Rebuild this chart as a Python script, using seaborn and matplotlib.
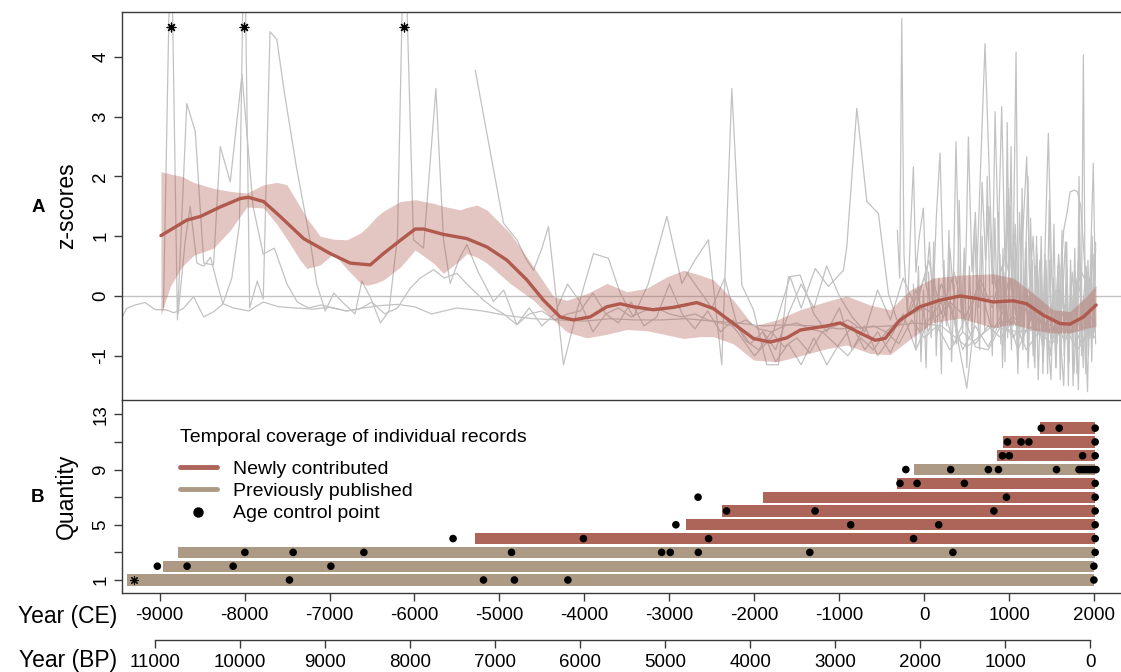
import numpy as np
import pandas as pd
import matplotlib
matplotlib.use("Agg")
import matplotlib.pyplot as plt
import seaborn as sns
from matplotlib.lines import Line2D

# ---------------- data ----------------
ce_ticks = [-9000, -8000, -7000, -6000, -5000, -4000, -3000, -2000, -1000, 0, 1000, 2000]
ce_tick_labels = ["-9000", "-8000", "-7000", "-6000", "-5000", "-4000", "-3000",
                  "-2000", "-1000", "0", "1000", "2000"]
bp_ticks = [11000, 10000, 9000, 8000, 7000, 6000, 5000, 4000, 3000, 2000, 1000, 0]
bp_tick_labels = ["11000", "10000", "9000", "8000", "7000", "6000", "5000", "4000",
                  "3000", "2000", "1000", "0"]
z_ticks = [-1, 0, 1, 2, 3, 4]
z_tick_labels = ["-1", "0", "1", "2", "3", "4"]
q_ticks = [1, 3, 5, 7, 9, 11, 13]
q_tick_labels = ["1", "", "5", "", "9", "", "13"]

legend_title = "Temporal coverage of individual records"
legend_labels = ["Newly contributed", "Previously published", "Age control point"]

# individual z-score records (year CE, z)
rec1 = [(-9440, -0.36), (-9390, -0.21), (-9290, -0.15), (-9170, -0.11), (-9050, -0.23), (-8930, -0.23),
        (-8830, -0.28), (-8720, -0.21), (-8600, -0.01), (-8480, -0.35), (-8360, -0.26),
        (-8250, -0.13), (-8130, -0.20), (-7950, -0.25), (-7780, -0.10), (-7600, -0.18),
        (-7400, -0.20), (-7200, -0.22), (-7000, -0.19), (-6800, -0.25), (-6600, -0.20),
        (-6400, -0.16), (-6200, -0.14), (-6000, -0.18), (-5800, -0.30), (-5500, -0.20),
        (-5200, -0.25), (-4900, -0.33), (-4600, -0.38), (-4300, -0.40), (-4000, -0.42),
        (-3700, -0.38), (-3400, -0.40), (-3100, -0.40), (-2800, -0.38), (-2500, -0.42),
        (-2200, -0.45), (-1900, -0.50), (-1600, -0.48), (-1300, -0.50), (-1000, -0.55),
        (-700, -0.52), (-400, -0.50), (-100, -0.45), (200, -0.50), (500, -0.85),
        (800, -0.50), (1100, -0.60), (1400, -0.55), (1700, -0.60), (1995, -0.55)]
rec2 = [(-8954, -0.20), (-8866, 6.50), (-8790, -0.40), (-8680, 3.22), (-8580, 2.75),
        (-8480, 0.55), (-8365, 0.52), (-8286, 2.50), (-8168, 1.91), (-8030, 3.70),
        (-7900, 1.50), (-7780, 0.70), (-7650, 0.80), (-7500, 0.20), (-7380, -0.10),
        (-7250, -0.20), (-7100, -0.15), (-6950, -0.20), (-6800, -0.25), (-6650, -0.22),
        (-6500, -0.10), (-6350, -0.30), (-6200, -0.20), (-6050, 0.13), (-5933, 0.30),
        (-5776, 0.44), (-5650, 0.30), (-5501, 0.38), (-5384, 0.20), (-5187, -0.07),
        (-5070, -0.20), (-4950, -0.30), (-4795, -0.48), (-4650, -0.30), (-4500, -0.25),
        (-4350, -0.40), (-4200, -0.30), (-4050, -0.25), (-3900, 0.05), (-3750, -0.30),
        (-3600, -0.20), (-3450, -0.35), (-3300, -0.25), (-3150, -0.20), (-3000, -0.30),
        (-2850, -0.35), (-2700, -0.30), (-2550, -0.40), (-2400, -0.45), (-2250, -0.50),
        (-2100, -0.40), (-1950, -0.55), (-1800, -0.60), (-1650, -0.50), (-1500, -0.45),
        (-1350, -0.55), (-1200, -0.60), (-1050, -0.50), (-900, -0.40), (-750, -0.55),
        (-600, -0.50), (-450, -0.60), (-300, -0.40), (-150, -0.30), (0, -0.20),
        (150, -0.35), (300, -0.10), (450, -0.30), (600, -0.85), (750, -0.90),
        (900, -0.50), (1050, -0.35), (1200, -0.60), (1350, -0.40), (1500, -0.50),
        (1650, -0.70), (1800, -0.45), (1950, -0.60), (1995, -0.50)]
rec3 = [(-8781, -0.30), (-8700, 0.90), (-8640, 1.50), (-8560, 0.55), (-8480, 0.50),
        (-8400, 0.65), (-8320, 0.20), (-8254, -0.13), (-8150, 0.30), (-8060, 1.20),
        (-8003, 6.50), (-7940, -0.20), (-7850, 0.25), (-7780, -0.05), (-7700, 4.42),
        (-7620, 4.29), (-7530, 3.39), (-7390, 2.16), (-7230, 0.94), (-7150, 0.20),
        (-7050, -0.25), (-6950, 0.05), (-6850, -0.10), (-6700, -0.30), (-6620, 0.25),
        (-6520, -0.02), (-6400, -0.45), (-6300, -0.25), (-6200, 1.00), (-6121, 6.50),
        (-6012, 0.94), (-5894, 0.80), (-5748, 3.47), (-5659, 0.94), (-5580, 0.21),
        (-5480, 0.60), (-5384, 0.86), (-5250, 0.40), (-5070, -0.09), (-4950, 0.10),
        (-4795, -0.48), (-4650, -0.20), (-4500, -0.50), (-4350, -0.30), (-4200, 0.20),
        (-4050, -0.10), (-3900, -0.60), (-3750, -0.30), (-3600, -0.45), (-3450, -0.10),
        (-3300, -0.50), (-3150, -0.35), (-3000, 0.20), (-2850, -0.30), (-2700, -0.55),
        (-2550, -0.25), (-2400, -0.60), (-2250, -0.40), (-2100, -0.75), (-1950, -0.90),
        (-1800, -0.60), (-1650, -0.85), (-1500, -0.70), (-1350, -0.95), (-1200, -0.60),
        (-1050, -0.80), (-900, -1.00), (-750, -0.70), (-600, -0.90), (-450, -0.60),
        (-300, -0.80), (-150, -0.40), (0, -0.70), (150, -0.50), (300, -0.90),
        (450, -0.60), (600, -0.80), (750, -0.50), (900, -0.70), (1050, -0.40),
        (1200, -0.90), (1350, -0.60), (1500, -0.80), (1650, -0.50), (1800, -0.90),
        (1950, -0.60), (2010, -0.70)]
rec4 = [(-5285, 3.78), (-5120, 2.50), (-4953, 1.22), (-4795, 0.94), (-4680, 0.60),
        (-4600, 0.43), (-4500, 0.80), (-4424, 1.16), (-4247, -1.15), (-4080, -0.20),
        (-3894, 0.71), (-3718, 0.63), (-3580, 0.05), (-3424, -0.35), (-3250, 0.20),
        (-3030, 1.33), (-2854, 0.21), (-2700, 0.60), (-2541, 0.94), (-2384, -1.15),
        (-2266, 3.47), (-2148, 0.18), (-2011, -0.23), (-1855, -1.15), (-1717, -1.15),
        (-1600, 0.32), (-1462, 0.35), (-1300, -0.30), (-1150, -0.60), (-1000, -0.20),
        (-850, -0.90), (-700, -0.50), (-550, -1.00), (-400, -0.70), (-250, -0.30),
        (-100, -0.90), (50, -0.40), (200, -0.10), (350, -0.80), (500, -0.30),
        (650, 0.20), (800, -0.60), (950, -0.20), (1100, -0.90), (1250, -0.40),
        (1400, -0.10), (1550, -0.70), (1700, -0.30), (1850, -0.80), (2010, -0.20)]
rec5 = [(-2800, 0.40), (-2650, 0.10), (-2500, -0.20), (-2350, 0.30), (-2200, -0.50),
        (-2050, -0.80), (-1900, -0.60), (-1750, -0.90), (-1600, -0.30), (-1450, 0.20),
        (-1300, -0.20), (-1150, 0.50), (-1000, 0.00), (-850, -0.35), (-700, -0.60),
        (-550, 0.10), (-400, -0.40), (-250, 0.30), (-100, -0.20), (50, 0.60),
        (200, -0.30), (350, 0.40), (500, -0.50), (650, 0.30), (800, -0.20),
        (950, 0.70), (1100, -0.40), (1250, 0.20), (1400, -0.60), (1550, 0.10),
        (1700, -0.30), (1850, 0.40), (2010, -0.10)]
rec6 = [(-2384, -0.30), (-2200, -0.60), (-2000, -1.00), (-1800, -0.70), (-1580, 0.32),
        (-1450, -0.20), (-1285, 0.46), (-1130, 0.16), (-953, 0.43), (-913, 0.82),
        (-795, 3.14), (-677, 1.58), (-541, 1.38), (-423, 0.04), (-300, -0.50),
        (-150, -0.20), (0, 0.30), (150, -0.60), (300, -0.10), (450, -0.90),
        (600, -0.50), (750, -0.85), (900, -0.40), (1050, -0.70), (1200, -0.20),
        (1350, -0.65), (1500, -0.30), (1650, -0.75), (1800, -0.45), (1950, -0.20),
        (2010, 0.10)]
rec7 = [(-1899, -0.60), (-1750, -1.10), (-1600, -0.80), (-1450, -1.15), (-1300, -0.70),
        (-1148, -1.15), (-1000, -0.80), (-850, -0.50), (-700, -0.90), (-550, -0.60),
        (-400, -0.95), (-250, -0.50), (-100, 0.10), (50, -0.60), (200, 0.20),
        (350, -0.40), (499, -1.54), (600, -0.30), (714, 4.22), (800, 0.50),
        (900, -0.30), (1000, 0.30), (1100, -0.50), (1200, 0.10), (1300, -0.60),
        (1400, 0.00), (1500, -0.80), (1600, -0.20), (1700, -0.60), (1800, 0.30),
        (1900, -0.40), (2010, 0.20)]
rec8 = [(-318, 1.10), (-290, 0.30), (-266, 4.64), (-240, 0.70), (-200, -0.30),
        (-160, 1.20), (-129, 2.16), (-100, 0.40), (-60, 1.00), (-12, 1.47),
        (20, 0.20), (60, 0.90), (100, -0.20), (140, 1.30), (184, 2.39),
        (220, 0.50), (260, -0.40), (300, 0.80), (340, 0.10), (372, 2.58),
        (410, 0.30), (450, -0.60), (490, 0.70), (518, 2.66), (560, 0.40),
        (600, 1.40), (640, -0.20), (680, 1.90), (720, 0.60), (760, 1.50),
        (800, 0.20), (832, 3.08), (870, 0.90), (910, 3.17), (950, 0.50),
        (990, 1.80), (1030, 0.10), (1070, 1.20), (1110, -0.30), (1150, 0.80),
        (1204, 2.33), (1240, 0.20), (1280, 1.00), (1320, -0.40), (1360, 0.60),
        (1400, -0.20), (1459, 2.72), (1500, 0.30), (1540, -0.50), (1580, 0.70),
        (1620, -0.20), (1660, 0.90), (1700, -0.60), (1740, 0.40), (1780, -0.30),
        (1820, 0.80), (1860, -0.40), (1900, 0.50), (1940, -0.20), (1988, 2.22),
        (2010, 0.30)]
rec9 = [(-129, 0.20), (-100, -0.90), (-70, 0.50), (-40, -1.10), (-10, 0.10),
        (20, -1.20), (50, 0.40), (80, -0.70), (110, 0.90), (140, -1.00),
        (170, 0.30), (200, -1.30), (230, 0.60), (260, -0.50), (290, 1.10),
        (320, -1.10), (350, 0.20), (380, -0.80), (410, 1.60), (440, -0.40),
        (470, 0.80), (500, -1.20), (530, 0.50), (560, -0.70), (590, 1.20),
        (620, -0.10), (650, -0.90), (680, 1.00), (710, -0.60), (740, 2.00),
        (770, 0.00), (800, -1.00), (830, 1.30), (860, -0.50), (890, 0.70),
        (920, -1.20), (950, 0.40), (980, -0.70), (1010, 1.50), (1040, -0.40),
        (1070, 0.60), (1100, -1.30), (1130, 0.20), (1160, -0.90), (1190, 0.80),
        (1220, -1.20), (1250, 0.30), (1280, -1.00), (1310, 0.50), (1340, -1.40),
        (1370, 0.10), (1400, -1.10), (1430, 0.60), (1460, -0.80), (1490, -1.40),
        (1520, 0.20), (1550, -1.20), (1580, 0.40), (1610, -0.90), (1640, -1.50),
        (1670, 0.10), (1700, -1.10), (1730, 0.30), (1760, -1.30), (1790, -0.40),
        (1812, -1.57), (1840, 0.20), (1870, -1.20), (1900, 0.50), (1930, -1.00),
        (1960, 0.30), (1990, -0.70), (2010, 0.60)]
rec10 = [(851, -0.20), (875, 1.40), (900, -0.80), (925, 0.80), (950, -1.10),
         (975, 2.90), (1000, 0.10), (1025, -0.90), (1050, 1.10), (1079, 4.08),
         (1100, 0.60), (1125, -0.70), (1150, 1.80), (1175, -0.50), (1200, 0.90),
         (1225, -1.10), (1250, 1.30), (1275, -0.20), (1300, -1.20), (1325, 0.70),
         (1350, -0.60), (1375, 1.00), (1400, -1.00), (1425, 0.40), (1450, -1.30),
         (1475, 0.60), (1500, -0.70), (1525, 1.20), (1550, -0.90), (1575, 0.30),
         (1600, -1.40), (1625, 0.50), (1650, -0.60), (1675, 0.90), (1700, -1.10),
         (1725, 0.20), (1750, -1.50), (1775, 0.40), (1800, -0.80), (1825, 1.10),
         (1850, -1.00), (1875, 0.00), (1900, -1.30), (1925, 0.60), (1950, -0.70),
         (1975, 1.00), (2000, -0.60), (2015, 0.90)]
rec11 = [(922, 0.50), (945, -0.60), (970, 1.60), (995, 0.20), (1020, 2.50),
         (1045, -0.50), (1070, 0.90), (1095, -1.00), (1120, 1.40), (1145, 0.30),
         (1170, -0.80), (1195, 0.80), (1220, 2.00), (1245, -0.40), (1270, 0.60),
         (1295, -1.10), (1320, 1.00), (1345, -0.60), (1370, 0.40), (1395, -1.30),
         (1420, 0.70), (1445, -0.50), (1470, 1.60), (1495, -0.90), (1520, 0.30),
         (1545, -1.20), (1570, 0.50), (1595, -0.60), (1620, 1.10), (1645, -1.00),
         (1670, 0.20), (1695, -1.50), (1720, 0.60), (1745, -0.70), (1770, 0.80),
         (1795, -1.30), (1820, 2.00), (1845, -0.80), (1871, 4.03), (1895, -0.50),
         (1920, -1.60), (1945, 0.30), (1970, -1.10), (1995, 0.70), (2015, -0.80)]
rec12 = [(1361, -0.60), (1400, -0.90), (1440, -0.40), (1480, -1.00), (1520, -0.50),
         (1560, -0.80), (1600, 0.20), (1640, 1.10), (1680, 1.40), (1714, 1.74),
         (1760, 1.77), (1800, 1.75), (1840, 1.50), (1870, 0.90), (1900, 0.20),
         (1930, -0.50), (1960, 0.40), (1990, -0.30), (2015, 0.80)]
records = [rec1, rec2, rec3, rec4, rec5, rec6, rec7, rec8, rec9, rec10, rec11, rec12]

# values beyond the top of panel A (marked with asterisks)
off_scale_years = [-8866, -8003, -6121]
off_scale_mark_z = [4.49, 4.49, 4.49]

# composite (smoothed) z-score
smooth_years = [-8984, -8678, -8520, -8285, -8050, -7953, -7776, -7580, -7305, -6992,
                -6756, -6521, -6365, -6168, -5992, -5894, -5659, -5384, -5148, -4913,
                -4678, -4482, -4286, -4130, -3933, -3737, -3580, -3424, -3188, -2953,
                -2678, -2482, -2247, -2012, -1815, -1619, -1462, -1148, -991, -756,
                -580, -462, -286, -51, 184, 419, 615, 811, 1047, 1204,
                1400, 1596, 1714, 1871, 2021]
smooth_z = [1.01, 1.27, 1.33, 1.49, 1.63, 1.65, 1.58, 1.33, 0.96, 0.71,
            0.55, 0.52, 0.71, 0.93, 1.12, 1.12, 1.03, 0.96, 0.82, 0.60,
            0.27, -0.07, -0.35, -0.40, -0.35, -0.18, -0.13, -0.18, -0.23, -0.19,
            -0.11, -0.21, -0.46, -0.71, -0.77, -0.70, -0.57, -0.50, -0.45, -0.62,
            -0.74, -0.71, -0.40, -0.18, -0.07, 0.00, -0.04, -0.10, -0.08, -0.13,
            -0.32, -0.46, -0.47, -0.35, -0.15]

band_years = [-8984, -8874, -8737, -8600, -8365, -8168, -7972, -7776, -7619, -7501,
              -7345, -7266, -7109, -6953, -6795, -6639, -6560, -6443, -6364, -6168,
              -5992, -5776, -5659, -5462, -5384, -5266, -5148, -4874, -4600, -4364,
              -4207, -3972, -3736, -3501, -3266, -3030, -2835, -2639, -2482, -2247,
              -2011, -1736, -1462, -1148, -913, -639, -403, -168, 106, 420,
              812, 1047, 1283, 1518, 1714, 1911, 2021]
band_upper = [2.08, 2.04, 2.00, 1.90, 1.80, 1.75, 1.72, 1.86, 1.90, 1.86,
              1.49, 1.30, 1.00, 0.95, 0.94, 1.05, 1.15, 1.33, 1.42, 1.58,
              1.61, 1.55, 1.50, 1.44, 1.48, 1.52, 1.44, 1.05, 0.49, -0.01,
              -0.07, 0.04, 0.21, 0.07, 0.13, 0.32, 0.43, 0.35, 0.27, -0.07,
              -0.50, -0.40, -0.23, -0.09, 0.00, -0.15, -0.23, 0.10, 0.30, 0.35,
              0.37, 0.30, 0.04, -0.23, -0.26, 0.00, 0.18]
band_lower = [-0.32, 0.16, 0.49, 0.68, 0.80, 1.10, 1.49, 1.47, 1.20, 0.95,
              0.60, 0.46, 0.52, 0.71, 0.45, 0.22, 0.18, 0.22, 0.27, 0.48,
              0.77, 0.55, 0.38, 0.60, 0.71, 0.65, 0.55, 0.21, -0.07, -0.40,
              -0.60, -0.70, -0.64, -0.56, -0.58, -0.65, -0.71, -0.68, -0.68, -0.80,
              -1.07, -1.10, -1.00, -0.88, -0.82, -0.96, -0.98, -0.72, -0.44, -0.37,
              -0.53, -0.47, -0.57, -0.62, -0.62, -0.54, -0.51]

# panel B: temporal coverage of each record (row 1 = bottom)
record_type = ["prev", "prev", "prev", "new", "new", "new", "new", "new", "prev", "new", "new", "new"]
record_start = [-9387, -8954, -8781, -5286, -2800, -2384, -1899, -318, -127, 851, 922, 1358]
record_end = [1995, 1995, 2010, 2010, 2010, 2010, 2010, 2010, 2010, 2010, 2010, 2010]

ages_r1 = [-7471, -5188, -4824, -4195, 1995]
ages_r2 = [-9026, -8676, -8134, -6984, 1995]
ages_r3 = [-7996, -7428, -6596, -4858, -3092, -2990, -2660, -1348, 336, 2010]
ages_r4 = [-5546, -4012, -2539, -127, 2010]
ages_r5 = [-2924, -867, 169, 2010]
ages_r6 = [-2328, -1286, 818, 2010]
ages_r7 = [-2663, 966, 2010]
ages_r8 = [-287, -86, 471, 2010]
ages_r9 = [-218, 310, 753, 872, 1555, 1820, 1850, 1880, 1910, 1940, 1970, 2000, 2020]
ages_r10 = [919, 1000, 1862, 2010]
ages_r11 = [978, 1138, 1230, 2010]
ages_r12 = [1376, 1587, 2010]
age_lists = [ages_r1, ages_r2, ages_r3, ages_r4, ages_r5, ages_r6, ages_r7, ages_r8,
             ages_r9, ages_r10, ages_r11, ages_r12]
undated_marker_year = [-9306]
undated_marker_row = [1]

# ---------------- styling ----------------
sns.set_theme(style="white")
plt.rcParams["font.family"] = ["Liberation Sans", "DejaVu Sans"]
plt.rcParams["axes.unicode_minus"] = False
plt.rcParams["text.color"] = "black"
plt.rcParams["xtick.labelcolor"] = "black"
plt.rcParams["ytick.labelcolor"] = "black"

C_NEW = "#AD6459"
C_PREV = "#AD9A85"
C_LINE = "#B05A4E"
C_GREY = "#C2C2C2"
C_AXIS = "#3A3A3A"

W, H = 1121, 672
fig = plt.figure(figsize=(W / 100, H / 100), dpi=100)

def px_axes(x0, y0, x1, y1):
    return fig.add_axes([x0 / W, 1 - y1 / H, (x1 - x0) / W, (y1 - y0) / H])

XLIM = (-9442, 2314)
axA = px_axes(122, 12.3, 1121, 400)
axB = px_axes(122, 400, 1121, 593.3)

# ---------------- panel A ----------------
rows = []
for i, rec in enumerate(records):
    for yr, z in rec:
        rows.append({"record": i + 1, "year": yr, "z": z})
df_rec = pd.DataFrame(rows)

axA.axhline(0, color=C_GREY, lw=1.0, zorder=1)
sns.lineplot(data=df_rec, x="year", y="z", units="record", estimator=None,
             color=C_GREY, lw=0.9, ax=axA, legend=False, zorder=2, sort=False)
axA.fill_between(band_years, band_lower, band_upper, color=C_LINE, alpha=0.35,
                 lw=0, zorder=3)
sns.lineplot(x=smooth_years, y=smooth_z, color=C_LINE, lw=2.4, ax=axA, zorder=4)
sns.scatterplot(x=off_scale_years, y=off_scale_mark_z, marker=(8, 2, 0), s=40,
                color="black", linewidth=0.9, ax=axA, zorder=5)

axA.set_xlim(*XLIM)
axA.set_ylim(-1.739, 4.744)
axA.set_xticks([])
axA.set_yticks(z_ticks)
axA.set_yticklabels(z_tick_labels)
axA.set_xlabel("")
axA.set_ylabel("")
for s in ["right", "bottom"]:
    axA.spines[s].set_visible(False)
for s in ["left", "top"]:
    axA.spines[s].set_color(C_AXIS)
    axA.spines[s].set_linewidth(1.0)

# ---------------- panel B ----------------
for i in range(len(record_start)):
    col = C_NEW if record_type[i] == "new" else C_PREV
    axB.barh(i + 1, record_end[i] - record_start[i], left=record_start[i],
             height=0.82, color=col, lw=0, zorder=2)

pts = []
for i, lst in enumerate(age_lists):
    for yr in lst:
        pts.append({"row": i + 1, "year": yr})
df_pts = pd.DataFrame(pts)
sns.scatterplot(data=df_pts, x="year", y="row", color="black", s=30,
                edgecolor="none", ax=axB, zorder=3, legend=False)
sns.scatterplot(x=undated_marker_year, y=undated_marker_row, marker=(8, 2, 0), s=30,
                color="black", linewidth=0.8, ax=axB, zorder=3)

axB.set_xlim(*XLIM)
axB.set_ylim(0.036, 14.04)
axB.set_xticks(ce_ticks)
axB.set_xticklabels(ce_tick_labels)
axB.set_yticks(q_ticks)
axB.set_yticklabels(q_tick_labels)
axB.set_xlabel("")
axB.set_ylabel("")
axB.spines["right"].set_visible(False)
for s in ["left", "top", "bottom"]:
    axB.spines[s].set_color(C_AXIS)
    axB.spines[s].set_linewidth(1.0)

handles = [Line2D([0], [0], color=C_NEW, lw=3.5),
           Line2D([0], [0], color=C_PREV, lw=3.5),
           Line2D([0], [0], color="black", marker="o", ls="none", markersize=6.5)]
leg = axB.legend(handles, legend_labels, title=legend_title, loc="upper left",
                 bbox_to_anchor=((180 - 122) / 999, 0.852), borderaxespad=0, borderpad=0,
                 frameon=False, fontsize=14, title_fontsize=14, handlelength=1.9,
                 handletextpad=0.85, labelspacing=0.24, alignment="left")
leg._legend_box.sep = 10.5

# ---------------- BP axis ----------------
axC = px_axes(122, 639, 1121, 640)
axC.set_xlim(1950 - XLIM[0], 1950 - XLIM[1])
axC.set_ylim(0, 1)
axC.patch.set_visible(False)
for s in ["left", "right", "top"]:
    axC.spines[s].set_visible(False)
axC.spines["bottom"].set_bounds(0, 11000)
axC.spines["bottom"].set_color(C_AXIS)
axC.spines["bottom"].set_linewidth(1.0)
axC.set_yticks([])
axC.set_xticks(bp_ticks)
axC.set_xticklabels(bp_tick_labels)

# ticks
for ax in (axA, axB):
    ax.tick_params(axis="y", direction="out", length=6, width=1.0, color=C_AXIS,
                   labelsize=13.5, pad=3, left=True)
    for lab in ax.get_yticklabels():
        lab.set_rotation(90)
        lab.set_va("center")
        lab.set_ha("right")
for ax in (axB, axC):
    ax.tick_params(axis="x", direction="out", length=6, width=1.0, color=C_AXIS,
                   labelsize=13.5, pad=4, bottom=True)

# text labels
def ftext(x, y, s, **kw):
    fig.text(x / W, 1 - y / H, s, **kw)

ftext(67, 206, "z-scores", rotation=90, ha="center", va="center", fontsize=16.5)
ftext(66, 496, "Quantity", rotation=90, ha="center", va="center", fontsize=16.5)
ftext(38, 208, "A", ha="center", va="center", fontsize=13.5, fontweight="bold")
ftext(37, 498, "B", ha="center", va="center", fontsize=13.5, fontweight="bold")
ftext(117, 616, "Year (CE)", ha="right", va="center", fontsize=16.5)
ftext(117, 661, "Year (BP)", ha="right", va="center", fontsize=16.5)

fig.savefig("out.png", dpi=100)
